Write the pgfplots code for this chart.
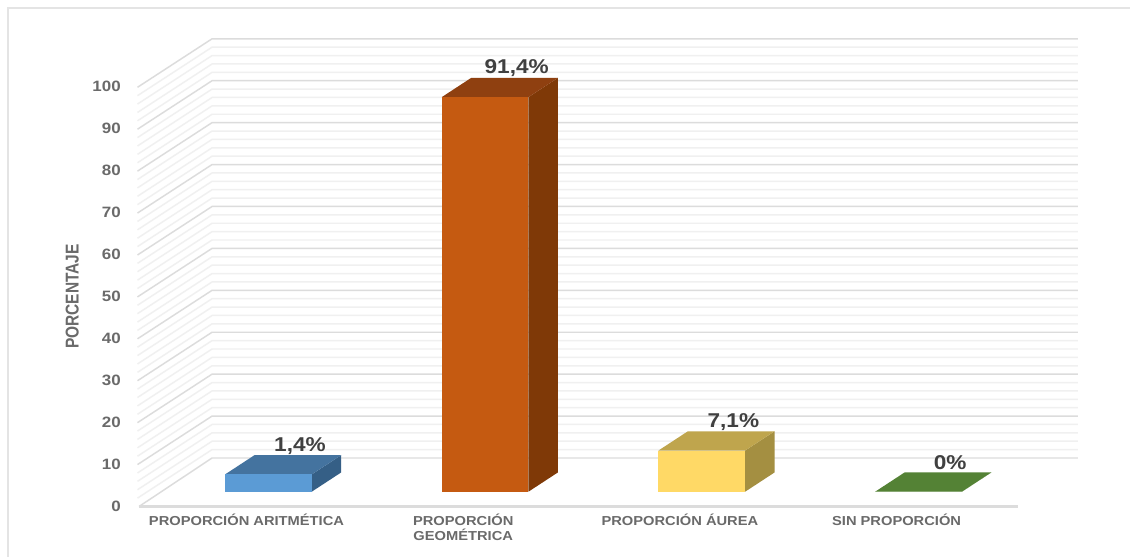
\documentclass[border=0pt]{standalone}
\usepackage{pgfplots}
\pgfplotsset{compat=1.18}
\usepackage{pgfplotstable}
\usepackage{fontspec}
\setmainfont[FakeStretch=1.13]{Liberation Sans}
\newfontfamily\plainsans{Liberation Sans}

\definecolor{wallminor}{HTML}{F0F0F0}
\definecolor{wallmajor}{HTML}{DCDCDC}
\definecolor{frameline}{HTML}{E4E4E4}
\definecolor{ticktext}{HTML}{6A6A6A}
\definecolor{valuetext}{HTML}{404040}
\definecolor{colorA}{HTML}{5B9BD5}
\definecolor{colorAt}{HTML}{44739F}
\definecolor{colorAs}{HTML}{355F86}
\definecolor{colorB}{HTML}{C55A11}
\definecolor{colorBt}{HTML}{8F4010}
\definecolor{colorBs}{HTML}{7F3907}
\definecolor{colorC}{HTML}{FFD966}
\definecolor{colorCt}{HTML}{BFA54D}
\definecolor{colorCs}{HTML}{A48F41}
\definecolor{colorD}{HTML}{548235}

% Share of each kind of proportion, with the height that the bar's top sits
% at above the front floor edge of the box
\pgfplotstableread{
pos value lift
0   1.4   6.25
1   91.4  6.25
2   7.1   6.25
3   0     3.53
}\proporciones

% One oblique box: #1 category, #2 value, #3 lift, #4 front, #5 top, #6 side
\newcommand{\cajabarra}[6]{%
  \pgfmathsetmacro{\xl}{#1+0.101-0.2}
  \pgfmathsetmacro{\xr}{#1+0.101+0.2}
  \pgfmathsetmacro{\xbl}{\xl+0.136}
  \pgfmathsetmacro{\xbr}{\xr+0.136}
  \pgfmathsetmacro{\yb}{3.53}
  \pgfmathsetmacro{\yt}{#2+#3}
  \pgfmathsetmacro{\ybb}{\yb+4.6}
  \pgfmathsetmacro{\ybt}{\yt+4.6}
  \addplot[fill=#6,draw=none,forget plot] coordinates {(\xr,\yb) (\xbr,\ybb) (\xbr,\ybt) (\xr,\yt)} --cycle;
  \addplot[fill=#5,draw=none,forget plot] coordinates {(\xl,\yt) (\xr,\yt) (\xbr,\ybt) (\xbl,\ybt)} --cycle;
  \addplot[fill=#4,draw=none,forget plot] coordinates {(\xl,\yb) (\xr,\yb) (\xr,\yt) (\xl,\yt)} --cycle;
}

\begin{document}
\begin{tikzpicture}
  \path[use as bounding box,fill=white] (0,0) rectangle (847.5pt,417.75pt);
  % chart frame, open at the right and at the bottom
  \draw[frameline,line width=1.5pt] (6pt,0pt) -- (6pt,411.75pt) -- (847.5pt,411.75pt);

  \begin{axis}[
    at={(103.125pt,37.875pt)},anchor=south west,
    x=162.525pt,y=3.144pt,
    xmin=-0.503,xmax=3.837,ymin=0,ymax=100,
    clip=false,
    axis x line*=bottom,axis y line*=left,
    axis line style={draw=none},
    major tick length=0pt,
    xtick={0,1,2,3},
    xticklabels={{PROPORCIÓN ARITMÉTICA},{PROPORCIÓN\\GEOMÉTRICA},{PROPORCIÓN ÁUREA},{SIN PROPORCIÓN}},
    ytick={0,10,...,100},
    /pgf/number format/assume math mode=true,
    /pgf/number format/use comma,
    xticklabel style={align=center,font=\bfseries\fontsize{9.75}{11.25}\selectfont,text=ticktext,
      anchor=north,inner sep=0pt,yshift=-5.25pt},
    yticklabel style={font=\bfseries\fontsize{11.25}{13}\selectfont,text=ticktext,anchor=east,inner sep=0pt,xshift=-12.4pt,yshift=0.4pt},
    ylabel={\scalebox{1}[1.2]{\plainsans\bfseries PORCENTAJE}},
    ylabel style={at={(axis description cs:-0.0695,0.501)},anchor=center,text=ticktext,
      font=\fontsize{11.6}{14}\selectfont},
  ]
    % lighter lines every 2 units on the side wall and the back wall
    \pgfplotsinvokeforeach{2,4,6,8,12,14,16,18,22,24,26,28,32,34,36,38,42,44,46,48,52,54,56,58,62,64,66,68,72,74,76,78,82,84,86,88,92,94,96,98}{
      \pgfmathsetmacro{\yback}{#1+11.57}
      \addplot[wallminor,line width=1.1pt,forget plot] coordinates {(-0.503,#1) (-0.159,\yback) (3.837,\yback)};
    }
    % stronger lines every 10 units
    \pgfplotsinvokeforeach{10,20,...,100}{
      \pgfmathsetmacro{\yback}{#1+11.57}
      \addplot[wallmajor,line width=1.1pt,forget plot] coordinates {(-0.503,#1) (-0.159,\yback) (3.837,\yback)};
    }
    % floor: back edge, left edge and thicker front edge
    \addplot[wallmajor,line width=1.1pt,forget plot] coordinates {(-0.496,0) (-0.159,11.57) (3.837,11.57)};
    \addplot[wallmajor,line width=1.6pt,forget plot] coordinates {(-0.496,0) (3.56,0)};

    \cajabarra{0}{1.4}{6.25}{colorA}{colorAt}{colorAs}
    \cajabarra{1}{91.4}{6.25}{colorB}{colorBt}{colorBs}
    \cajabarra{2}{7.1}{6.25}{colorC}{colorCt}{colorCs}
    \cajabarra{3}{0}{3.53}{colorD}{colorD}{colorD}

    % value labels above the rear edge of each box top
    \addplot[draw=none,mark=none,
      point meta={\thisrow{value}},
      nodes near coords={\pgfmathprintnumber{\pgfplotspointmeta}\%},
      every node near coord/.style={font=\bfseries\fontsize{15}{17}\selectfont,text=valuetext,
        anchor=center,inner sep=0pt,xshift=1.6pt,yshift=7pt},
    ] table[x expr={\thisrow{pos}+0.237},y expr={\thisrow{value}+\thisrow{lift}+4.6}] {\proporciones};
  \end{axis}
\end{tikzpicture}
\end{document}
